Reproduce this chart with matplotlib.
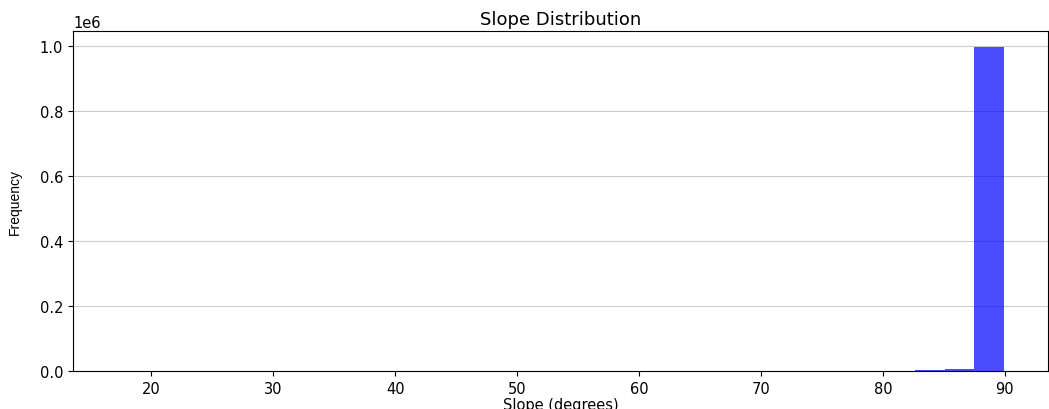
import numpy as np
import matplotlib
matplotlib.use("Agg")
import matplotlib.pyplot as plt

# Histogram bins (30 bins between the min and max slope) and counts per bin
slope_min = 17.2
slope_max = 89.9
n_bins = 30
counts = [0, 0, 0, 0, 0, 0, 0, 0, 0, 0,
          0, 0, 0, 0, 0, 0, 0, 0, 0, 0,
          0, 0, 0, 0, 0, 0, 0, 2000, 5500, 996000]

title = "Slope Distribution"
xlabel = "Slope (degrees)"
ylabel = "Frequency"

edges = np.linspace(slope_min, slope_max, n_bins + 1)
centers = (edges[:-1] + edges[1:]) / 2

fig = plt.figure(figsize=(10.49, 4.10), dpi=100)
ax = fig.add_axes([73 / 1049, 38 / 410, (1048 - 73) / 1049, (372 - 32) / 410])
ax.hist(centers, bins=edges, weights=counts, color="blue", alpha=0.7)
ax.set_title(title, fontsize=13, pad=5)
ax.set_xlabel(xlabel, fontsize=10.5, labelpad=1)

ax.set_ylabel(ylabel, fontsize=10, family=["Liberation Sans", "DejaVu Sans"])
ax.yaxis.set_label_coords(-0.052, 0.5)
ax.grid(axis="y", color="#cccccc", linewidth=0.8)
ax.set_axisbelow(True)
ax.tick_params(labelsize=10.5)
ax.yaxis.get_offset_text().set_fontsize(10.5)
ax.set_xticks([20, 30, 40, 50, 60, 70, 80, 90])
fig.savefig("out.png", dpi=100)
